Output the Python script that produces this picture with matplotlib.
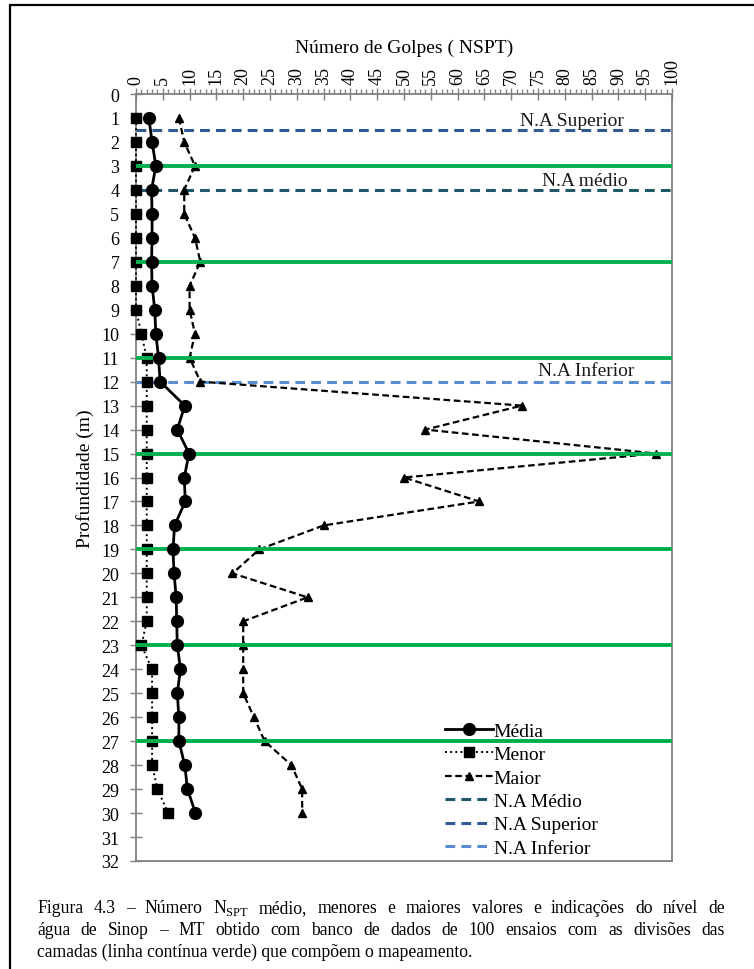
import matplotlib
matplotlib.use('Agg')
import matplotlib.pyplot as plt
from matplotlib.patches import Rectangle
from matplotlib.ticker import MultipleLocator

plt.rcParams['font.family'] = ['Liberation Serif', 'DejaVu Serif']
plt.rcParams['mathtext.fontset'] = 'custom'
plt.rcParams['mathtext.rm'] = 'Liberation Serif'

# Dados (profundidade em m, NSPT)
profundidade = list(range(1, 31))
media = [2.4, 3.0, 3.7, 2.9, 3.0, 3.0, 2.9, 3.0, 3.5, 3.7, 4.2, 4.5, 9.1, 7.7, 9.9,
         9.0, 9.2, 7.2, 6.9, 7.1, 7.5, 7.6, 7.7, 8.3, 7.7, 8.0, 8.0, 9.1, 9.6, 11.1]
menor = [0, 0, 0, 0, 0, 0, 0, 0, 0, 1, 2, 2, 2, 2, 2,
         2, 2, 2, 2, 2, 2, 2, 1, 3, 3, 3, 3, 3, 4, 6]
maior = [8, 9, 11, 9, 9, 11, 12, 10, 10, 11, 10, 12, 72, 54, 97,
         50, 64, 35, 23, 18, 32, 20, 20, 20, 20, 22, 24, 29, 31, 31]

camadas = [3, 7, 11, 15, 19, 23, 27]
na_superior = 1.5
na_medio = 4
na_inferior = 12

W, H = 754, 970
fig = plt.figure(figsize=(W / 100, H / 100), dpi=100)
ax = fig.add_axes([136 / W, 1 - 862 / H, (672 - 136) / W, (862 - 95) / H])

l_maior, = ax.plot(maior, profundidade, color='black', ls=(0, (3, 1.6)), lw=1.6,
                   marker='^', ms=6, label='Maior', zorder=3)
l_menor, = ax.plot(menor, profundidade, color='black', ls=':', lw=1.4,
                   marker='s', ms=6.5, label='Menor', clip_on=False, zorder=3)

# divisões das camadas (linha verde)
for c in camadas:
    ax.axhline(c, color='#00b050', lw=2.8, zorder=3.5)

l_media, = ax.plot(media, profundidade, color='black', ls='-', lw=2,
                   marker='o', ms=8.5, label='Média', zorder=4)

l_med = ax.axhline(na_medio, color='#215868', ls=(0, (3.2, 2)), lw=2.2, label='N.A Médio')
l_sup = ax.axhline(na_superior, color='#2f5a94', ls=(0, (3.2, 2)), lw=2.2, label='N.A Superior')
l_inf = ax.axhline(na_inferior, color='#5b8ccf', ls=(0, (3.2, 2)), lw=2.2, label='N.A Inferior')

ax.text(81.3, 1.1, 'N.A Superior', ha='center', va='center', fontsize=14, color='#1a1a1a')
ax.text(83.8, 3.6, 'N.A médio', ha='center', va='center', fontsize=14, color='#1a1a1a')
ax.text(84.0, 11.55, 'N.A Inferior', ha='center', va='center', fontsize=14, color='#1a1a1a')

ax.set_xlim(0, 100)
ax.set_ylim(32, 0)
ax.xaxis.tick_top()
ax.xaxis.set_label_position('top')
ax.xaxis.set_major_locator(MultipleLocator(5))
ax.xaxis.set_minor_locator(MultipleLocator(1))
ax.set_yticks(range(0, 33))
ax.tick_params(axis='x', which='major', direction='inout', length=8, width=1,
               color='#808080', labelsize=13, labelrotation=90, pad=3)
ax.tick_params(axis='x', which='minor', direction='out', length=3.5, width=1, color='#808080')
ax.tick_params(axis='y', direction='inout', length=8, width=1, color='#808080',
               labelsize=13, pad=8)
for s in ax.spines.values():
    s.set_color('#808080')
    s.set_linewidth(1.3)

ax.set_xlabel('Número de Golpes ( NSPT)', fontsize=14, labelpad=4)
ax.set_ylabel('Profundidade (m)', fontsize=14)
ax.yaxis.set_label_coords((94 - 136) / 536, 0.5)

leg = ax.legend(handles=[l_media, l_menor, l_maior, l_med, l_sup, l_inf],
                loc='upper left', bbox_to_anchor=(445 / W, 1 - 723 / H),
                bbox_transform=fig.transFigure, frameon=False, fontsize=14,
                handlelength=2.45, handletextpad=0.05, labelspacing=0.3,
                borderaxespad=0, borderpad=0)

# moldura externa
fig.add_artist(Rectangle((10 / W, -0.1), 1.0, 1.1 - 6 / H, transform=fig.transFigure,
                         fill=False, lw=1.6, edgecolor='black'))

# legenda da figura (texto justificado)
fs_cap = 12.7


def linha_justificada(palavras, y, x0, x1):
    textos = [fig.text(0, 1 - y / H, p, fontsize=fs_cap, va='baseline') for p in palavras]
    fig.canvas.draw()
    r = fig.canvas.get_renderer()
    larguras = [t.get_window_extent(r).width for t in textos]
    gap = (x1 - x0 - sum(larguras)) / (len(palavras) - 1)
    x = x0
    for t, w in zip(textos, larguras):
        t.set_x(x / W)
        x += w + gap


linha_justificada('Figura 4.3 – Número N$_{\\mathrm{SPT}}$ médio, menores e maiores valores e indicações do nível de'.split(' '),
                  913, 37, 725)
linha_justificada('água de Sinop – MT obtido com banco de dados de 100 ensaios com as divisões das'.split(' '),
                  935, 37, 725)
fig.text(37 / W, 1 - 957 / H, 'camadas (linha contínua verde) que compõem o mapeamento.',
         fontsize=fs_cap, va='baseline')

fig.savefig('out.png', dpi=100)
